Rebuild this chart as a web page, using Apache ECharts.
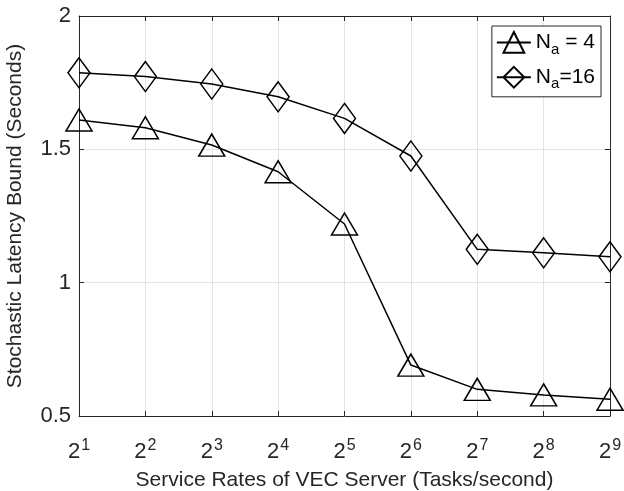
<!DOCTYPE html>
<html>
<head>
<meta charset="utf-8">
<script src="https://cdn.jsdelivr.net/npm/echarts@6/dist/echarts.min.js"></script>
<style>html,body{margin:0;padding:0;background:#fff}#c{width:624px;height:491px}</style>
</head>
<body>
<div id="c"></div>
<script>
// Exponents of 2 for service rate
var exponents = [1, 2, 3, 4, 5, 6, 7, 8, 9];
var na4 = [1.61, 1.581, 1.516, 1.416, 1.22, 0.691, 0.600, 0.579, 0.563];
var na16 = [1.787, 1.773, 1.745, 1.697, 1.616, 1.475, 1.125, 1.112, 1.097];
var yTicks = [0.5, 1, 1.5, 2];

var font = 'Liberation Sans, Arial, Helvetica, sans-serif';
var dark = '#262626';
function pairs(xs, ys) { return xs.map(function (x, i) { return [x, ys[i]]; }); }

var chart = echarts.init(document.getElementById('c'), null, {renderer: 'canvas'});
var axisCommon = {
  axisLine: {show: true, lineStyle: {color: dark, width: 1}},
  axisTick: {show: true, inside: true, length: 5, lineStyle: {color: dark}},
};
chart.setOption({
  animation: false,
  backgroundColor: '#fff',
  grid: {left: 79, right: 14, top: 16, bottom: 75, containLabel: false, outerBoundsMode: 'none'},
  legend: {
    orient: 'vertical', right: 23, top: 26,
    borderColor: dark, borderWidth: 1, backgroundColor: '#fff',
    padding: [5, 6, 5, 4], itemGap: 9, itemWidth: 34, itemHeight: 26,
    textStyle: {fontFamily: font, fontSize: 21, color: '#000',
      rich: {n: {fontSize: 21, fontFamily: font, color: '#000'},
             s: {fontSize: 15, fontFamily: font, color: '#000', verticalAlign: 'bottom', padding: [14, 0, 0, 0]}}},
    formatter: function (name) {
      return name === 'a4' ? '{n|N}{s|a}{n| = 4}' : '{n|N}{s|a}{n|=16}';
    },
    data: ['a4', 'a16']
  },
  xAxis: [Object.assign({
    type: 'value', min: 1, max: 9, interval: 1,
    name: 'Service Rates of VEC Server (Tasks/second)', nameLocation: 'middle', nameGap: 54,
    nameTextStyle: {fontFamily: font, fontSize: 21, color: dark},
    splitLine: {show: true, lineStyle: {color: '#e3e3e3', width: 1}},
    axisLabel: {
      margin: 22, color: dark, fontFamily: font,
      formatter: function (v) { return '{b|2}{s|' + v + '}'; },
      rich: {b: {fontSize: 22, fontFamily: font, color: dark},
             s: {fontSize: 16, fontFamily: font, color: dark, verticalAlign: 'top', padding: [0, 0, 12, 1]}}
    }
  }, axisCommon), Object.assign({
    type: 'value', min: 1, max: 9, interval: 1, position: 'top',
    axisLabel: {show: false}, splitLine: {show: false}
  }, axisCommon)],
  yAxis: [Object.assign({
    type: 'value', min: yTicks[0], max: yTicks[yTicks.length - 1], interval: 0.5,
    name: 'Stochastic Latency Bound (Seconds)', nameLocation: 'middle', nameGap: 53,
    nameTextStyle: {fontFamily: font, fontSize: 21, color: dark},
    splitLine: {show: true, lineStyle: {color: '#e3e3e3', width: 1}},
    axisLabel: {margin: 8, color: dark, fontFamily: font, fontSize: 22}
  }, axisCommon), Object.assign({
    type: 'value', min: 0.5, max: 2, interval: 0.5, position: 'right',
    axisLabel: {show: false}, splitLine: {show: false}
  }, axisCommon)],
  series: [
    {name: 'a4', type: 'line', data: pairs(exponents, na4),
     symbol: 'triangle', symbolSize: [26, 22],
     lineStyle: {color: '#000', width: 1.5},
     itemStyle: {color: 'rgba(0,0,0,0)', borderColor: '#000', borderWidth: 1.5}},
    {name: 'a16', type: 'line', data: pairs(exponents, na16),
     symbol: 'diamond', symbolSize: [22, 30],
     lineStyle: {color: '#000', width: 1.5},
     itemStyle: {color: 'rgba(0,0,0,0)', borderColor: '#000', borderWidth: 1.5}}
  ]
});
</script>
</body>
</html>
